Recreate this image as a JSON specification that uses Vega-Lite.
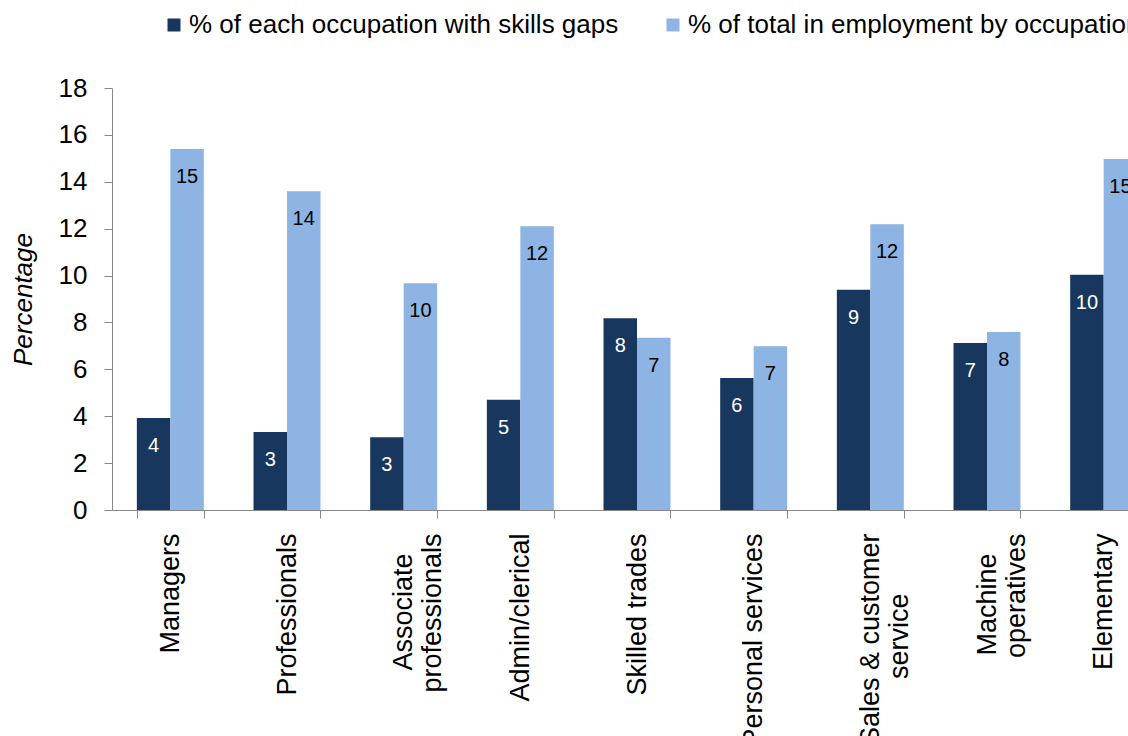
{
  "$schema": "https://vega.github.io/schema/vega-lite/v6.json",
  "width": 1016,
  "height": 422,
  "autosize": {"type": "none"},
  "padding": {"left": 112, "top": 88, "right": 0, "bottom": 226},
  "background": "white",
  "config": {
    "view": {"stroke": null},
    "font": "Liberation Sans"
  },
  "data": {
    "values": [
      {"occupation": "Managers", "series": "% of each occupation with skills gaps", "value": 3.92},
      {"occupation": "Managers", "series": "% of total in employment by occupation", "value": 15.4},
      {"occupation": "Professionals", "series": "% of each occupation with skills gaps", "value": 3.33},
      {"occupation": "Professionals", "series": "% of total in employment by occupation", "value": 13.6},
      {"occupation": "Associate|professionals", "series": "% of each occupation with skills gaps", "value": 3.1},
      {"occupation": "Associate|professionals", "series": "% of total in employment by occupation", "value": 9.67},
      {"occupation": "Admin/clerical", "series": "% of each occupation with skills gaps", "value": 4.7},
      {"occupation": "Admin/clerical", "series": "% of total in employment by occupation", "value": 12.1},
      {"occupation": "Skilled trades", "series": "% of each occupation with skills gaps", "value": 8.18},
      {"occupation": "Skilled trades", "series": "% of total in employment by occupation", "value": 7.35},
      {"occupation": "Personal services", "series": "% of each occupation with skills gaps", "value": 5.63},
      {"occupation": "Personal services", "series": "% of total in employment by occupation", "value": 6.98},
      {"occupation": "Sales & customer|service", "series": "% of each occupation with skills gaps", "value": 9.39},
      {"occupation": "Sales & customer|service", "series": "% of total in employment by occupation", "value": 12.19},
      {"occupation": "Machine|operatives", "series": "% of each occupation with skills gaps", "value": 7.12},
      {"occupation": "Machine|operatives", "series": "% of total in employment by occupation", "value": 7.59},
      {"occupation": "Elementary", "series": "% of each occupation with skills gaps", "value": 10.03},
      {"occupation": "Elementary", "series": "% of total in employment by occupation", "value": 14.97}
    ]
  },
  "encoding": {
    "x": {
      "field": "occupation",
      "type": "nominal",
      "sort": null,
      "scale": {"range": [0, 1050], "paddingInner": 0.426, "paddingOuter": 0.213},
      "axis": {
        "title": null,
        "labelExpr": "datum.label == 'Associate|professionals' ? ['Associate\u2800', 'professionals'] : datum.label == 'Sales & customer|service' ? ['Sales & customer', 'service\u2800\u2800\u2800'] : datum.label == 'Machine|operatives' ? ['Machine\u2800', 'operatives'] : datum.label",
        "labelAngle": -90,
        "labelAlign": "right",
        "labelBaseline": "middle",
        "labelFontSize": 27,
        "labelLineHeight": 29,
        "labelColor": "black",
        "labelPadding": 15,
        "labelLimit": 400,
        "tickBand": "extent",
        "tickSize": 8,
        "tickColor": "#888888",
        "domainColor": "#888888"
      }
    },
    "xOffset": {
      "field": "series",
      "type": "nominal",
      "sort": ["% of each occupation with skills gaps", "% of total in employment by occupation"]
    },
    "y": {
      "field": "value",
      "type": "quantitative",
      "scale": {"domain": [0, 18]},
      "axis": {
        "title": "Percentage",
        "titleFontStyle": "italic",
        "titleFontWeight": "normal",
        "titleFontSize": 26,
        "titleColor": "black",
        "titlePadding": 22,
        "values": [0, 2, 4, 6, 8, 10, 12, 14, 16, 18],
        "grid": false,
        "labelFontSize": 26,
        "labelColor": "black",
        "labelPadding": 17,
        "tickSize": 8,
        "tickColor": "#888888",
        "domainColor": "#888888"
      }
    }
  },
  "layer": [
    {
      "mark": {"type": "bar"},
      "encoding": {
        "color": {
          "field": "series",
          "type": "nominal",
          "scale": {
            "domain": ["% of each occupation with skills gaps", "% of total in employment by occupation"],
            "range": ["#17375E", "#8DB4E2"]
          },
          "legend": {
            "title": null,
            "orient": "none",
            "direction": "horizontal",
            "legendX": 49,
            "legendY": -76,
            "symbolType": "square",
            "symbolSize": 169,
            "symbolStrokeWidth": 0,
            "labelFontSize": 26,
            "labelColor": "black",
            "labelLimit": 600,
            "labelOffset": 2,
            "columnPadding": 41
          }
        }
      }
    },
    {
      "mark": {"type": "text", "baseline": "middle", "dy": 28, "fontSize": 20},
      "encoding": {
        "text": {"field": "value", "type": "quantitative", "format": ".0f"},
        "color": {
          "condition": {"test": "datum.series === '% of each occupation with skills gaps'", "value": "white"},
          "value": "black"
        }
      }
    }
  ]
}
